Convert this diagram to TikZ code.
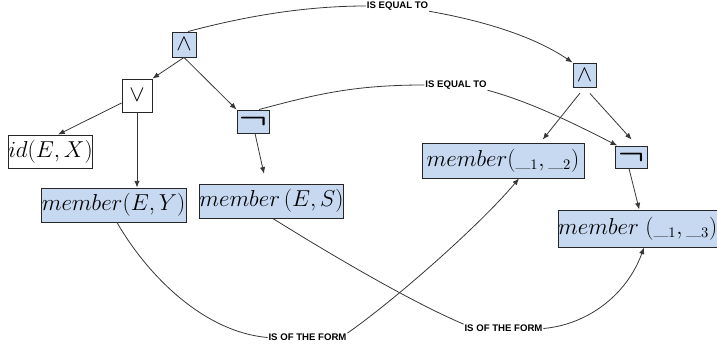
\documentclass[tikz,border=0pt]{standalone}
\usepackage{fontspec}
\setsansfont{Liberation Sans}
\usetikzlibrary{arrows.meta}
\definecolor{boxblue}{RGB}{198,217,241}
\definecolor{edgecol}{RGB}{55,55,55}
\begin{document}
\begin{tikzpicture}[x=0.75pt,y=0.75pt,
  box/.style={draw=black!85, line width=0.7pt, inner sep=0pt, align=center},
  bluebox/.style={box, fill=boxblue},
  mtxt/.style={font=\fontsize{16}{18}\selectfont},
  optxt/.style={font=\fontsize{18}{20}\selectfont},
  negtxt/.style={font=\fontsize{22}{22}\selectfont},
  rel/.style={font=\sffamily\bfseries\fontsize{7.2}{8}\selectfont, inner sep=0.5pt, text=black},
  arr/.style={draw=edgecol, line width=0.6pt, -{Latex[length=5pt,width=4pt]}},
  conn/.style={draw=edgecol, line width=0.6pt}]
\useasboundingbox (0,0) rectangle (717,350);

% operator nodes
\node[bluebox, minimum width=18pt, minimum height=18.75pt, optxt] (and1) at (184,305.5) {\raisebox{-2pt}{$\wedge$}};
\node[box, minimum width=22.5pt, minimum height=24.75pt, optxt] (or) at (137,254.5) {\raisebox{-4pt}{$\vee$}};
\node[bluebox, minimum width=24pt, minimum height=17.25pt, negtxt] (neg1) at (253,228.5) {\scalebox{1.35}[1]{\boldmath$\neg$}};
\node[bluebox, minimum width=17.25pt, minimum height=18pt, optxt] (and2) at (584.5,275) {$\wedge$};
\node[bluebox, minimum width=24pt, minimum height=16.5pt, negtxt] (neg2) at (631,193) {\scalebox{1.25}[1]{\boldmath$\neg$}};

% term nodes
\node[box, minimum width=62.25pt, minimum height=24.75pt, mtxt] (id) at (50.5,198.5) {$id(E,X)$};
\node[bluebox, minimum width=108.75pt, minimum height=25.5pt, mtxt] (mEY) at (113.5,145) {$member(E,Y)$};
\node[bluebox, minimum width=107.25pt, minimum height=25.5pt, mtxt] (mES) at (271.5,149) {$member\,(E,S)$};
\node[bluebox, minimum width=121.5pt, minimum height=26.25pt, mtxt] (m12) at (503,189.5) {$member(\_{}_{1},\_{}_{2})$};
\node[bluebox, minimum width=118.1pt, minimum height=27.75pt, mtxt] (m13) at (637.75,121.5) {$member\;(\_{}_{1},\_{}_{3})$};

% relation labels
\node[rel] (eq1) at (397.5,344) {IS EQUAL TO};
\node[rel] (eq2) at (456,265) {IS EQUAL TO};
\node[rel] (form1) at (307.5,12.5) {IS OF THE FORM};
\node[rel] (form2) at (503.5,21.5) {IS OF THE FORM};

% tree edges
\draw[arr] (and1.south) -- (or.north east);
\draw[arr] (and1.south) -- (neg1.north west);
\draw[arr] (or.206) -- (id.66);
\draw[arr] (or.south) -- (or.south |- mEY.north);
\draw[arr, shorten >=7.5pt] ([xshift=1.5pt]neg1.south) -- ([xshift=-4pt]mES.north);
\draw[arr, shorten <=5.5pt, shorten >=2.9pt] (and2.south) -- ([xshift=28pt]m12.north);
\draw[arr, shorten <=6pt, shorten >=6pt] (and2.south) -- ([xshift=4.5pt]neg2.north);
\draw[arr] ([xshift=-1.5pt]neg2.south) -- ([xshift=1.1pt]m13.north);

% relation curves
\draw[conn] ([xshift=3pt]and1.north) .. controls +(15:60) and +(180:60) .. (eq1.west);
\draw[arr] (eq1.south east) .. controls +(-10:50) and +(146:50) .. (and2.north west);
\draw[conn] ([xshift=4.5pt]neg1.north) .. controls +(15:60) and +(180:70) .. (eq2.west);
\draw[arr] (eq2.south east) .. controls +(-15:45) and +(153:45) .. ([xshift=2pt]neg2.north west);
\draw[conn] ([xshift=2.6pt]mEY.south) .. controls +(-60:60) and +(175:65) .. (form1.west);
\draw[arr] (form1.north east) .. controls +(35:60) and +(-130:60) .. ([xshift=12pt]m12.south);
\draw[conn] ([xshift=1pt]mES.south) .. controls +(-32:60) and +(157:60) .. (form2.north west);
\draw[arr] (form2.east) .. controls +(5:45) and +(-110:50) .. ([xshift=4.7pt]m13.south);
\end{tikzpicture}
\end{document}
